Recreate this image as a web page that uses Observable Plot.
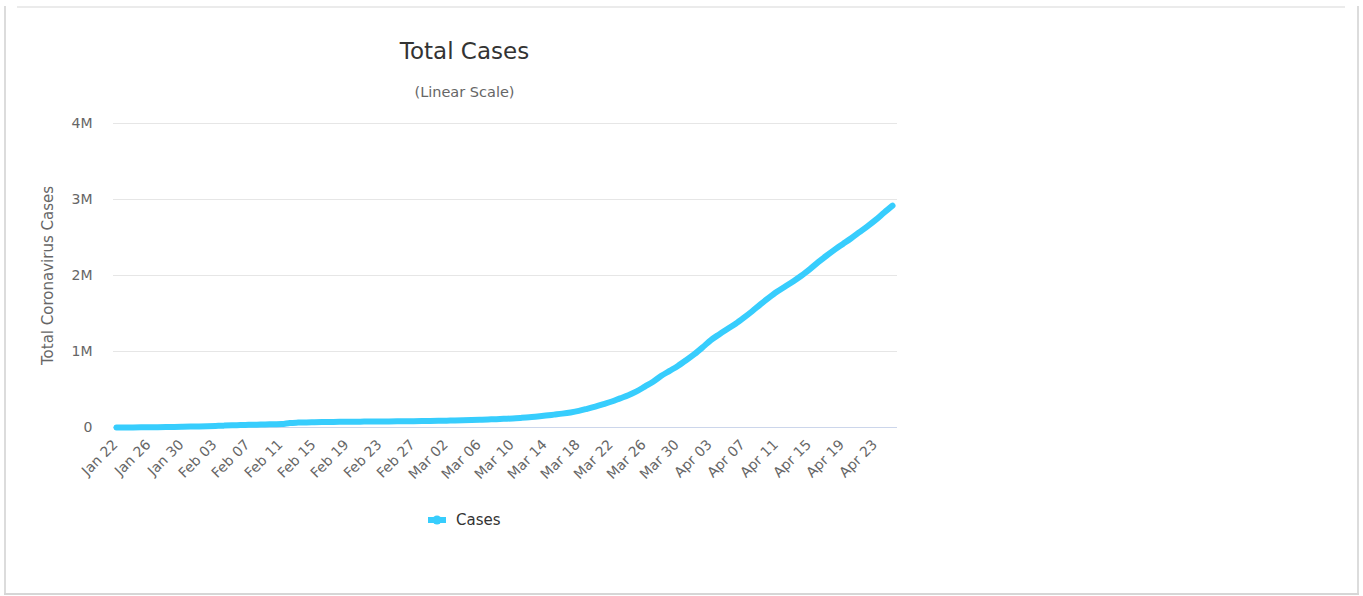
<!DOCTYPE html>
<html>
<head>
<meta charset="utf-8">
<script src="https://cdn.jsdelivr.net/npm/d3@7"></script>
<script src="https://cdn.jsdelivr.net/npm/@observablehq/plot@0.6"></script>
<style>
  html, body { margin: 0; padding: 0; background: #fff; }
  body { width: 1363px; height: 596px; position: relative; overflow: hidden; font-family: "DejaVu Sans", sans-serif; }
  #chart { position: absolute; left: 0; top: 0; }
  .frame-top { position: absolute; left: 17px; top: 6px; width: 1328px; height: 2px; background: #ebebeb; }
  .frame-left { position: absolute; left: 4px; top: 6px; width: 2px; height: 589px; background: #dcdcdc; }
  .frame-right { position: absolute; left: 1357px; top: 6px; width: 2px; height: 589px; background: #dcdcdc; }
  .frame-bottom { position: absolute; left: 4px; top: 593px; width: 1355px; height: 2px; background: #d6d6d6; }
  .title { position: absolute; left: 0; width: 929px; text-align: center; color: #333; }
  #t1 { top: 38px; font-size: 23px; }
  #t2 { top: 84px; font-size: 14.5px; color: #666; }
  #legend { position: absolute; left: 426px; top: 509px; height: 22px; display: flex; align-items: center; color: #333; font-size: 15px; }
  #legend svg { margin-right: 8px; }
</style>
</head>
<body>
<div class="frame-top"></div>
<div class="frame-left"></div>
<div class="frame-right"></div>
<div class="frame-bottom"></div>
<div id="chart"></div>
<div class="title" id="t1">Total Cases</div>
<div class="title" id="t2">(Linear Scale)</div>
<div id="legend">
  <svg width="22" height="12"><line x1="2" y1="6" x2="20" y2="6" stroke="#37cdfd" stroke-width="6"/><circle cx="11" cy="6" r="4.5" fill="#37cdfd"/></svg>
  <span>Cases</span>
</div>
<script>
// Data (worldwide total coronavirus cases, daily from Jan 22 to Apr 25, 2020)
const startDate = "2020-01-22";
const endDate = "2020-04-25";
const cases = [
  580, 845, 1317, 2015, 2800, 4581, 6058, 7813, 9823, 11950,
  14553, 17391, 20630, 24545, 28266, 31439, 34876, 37552, 40553, 43099,
  45134, 59287, 64438, 67100, 69197, 71329, 73332, 75184, 75700, 76677,
  77673, 78651, 79205, 80087, 80828, 81820, 83112, 84615, 86604,
  88585, 90443, 93016, 95314, 98425, 102050, 106099, 109991, 114381, 118948,
  126214, 134576, 145483, 156653, 169593, 182490, 198238, 218822, 246261, 275869,
  308175, 341585, 383750, 424889, 475706, 538666, 603066, 680000, 745000, 810000,
  885000,
  965000, 1055000, 1150000, 1225000, 1295000, 1365000, 1445000, 1530000, 1620000, 1705000,
  1785000, 1855000, 1925000, 2000000, 2085000, 2175000, 2260000, 2340000, 2415000, 2490000,
  2570000, 2650000, 2735000, 2830000, 2920000
];
const xTickLabels = ["Jan 22","Jan 26","Jan 30","Feb 03","Feb 07","Feb 11","Feb 15","Feb 19","Feb 23","Feb 27",
  "Mar 02","Mar 06","Mar 10","Mar 14","Mar 18","Mar 22","Mar 26","Mar 30","Apr 03","Apr 07","Apr 11","Apr 15","Apr 19","Apr 23"];
const yTicks = [0, 1000000, 2000000, 3000000, 4000000];
const yTickLabels = ["0", "1M", "2M", "3M", "4M"];
const seriesName = "Cases";
const yTitle = "Total Coronavirus Cases";

const dates = d3.utcDay.range(new Date(startDate + "T00:00Z"), d3.utcDay.offset(new Date(endDate + "T00:00Z"), 1));
const table = dates.map((d, i) => ({date: d, value: cases[i], series: seriesName}));
const parseTick = d3.utcParse("%Y %b %d");
const tickDates = xTickLabels.map(s => parseTick("2020 " + s));
const lineColor = "#37cdfd";

const chart = Plot.plot({
  width: 1363,
  height: 596,
  marginLeft: 113,
  marginRight: 466,
  marginTop: 123,
  marginBottom: 169,
  style: {fontFamily: "DejaVu Sans, sans-serif", fontSize: "14px", color: "#666", background: "transparent"},
  x: {type: "utc", domain: [dates[0], dates[dates.length - 1]], insetLeft: 3, insetRight: 5, axis: null},
  y: {domain: [0, 4000000], axis: null},
  marks: [
    Plot.ruleY(yTicks.slice(1), {stroke: "#e6e6e6", strokeWidth: 1}),
    Plot.ruleY([0], {stroke: "#ccd6eb", strokeWidth: 1}),
    Plot.axisY({ticks: yTicks, tickFormat: (d) => yTickLabels[yTicks.indexOf(d)], tickSize: 0, tickPadding: 21, label: null, fill: "#666", fontSize: 14}),
    Plot.text(tickDates, {x: (d) => d, text: (d, i) => xTickLabels[i], frameAnchor: "bottom", dx: 2, dy: 18, rotate: -45, textAnchor: "end", fill: "#666", fontSize: 14}),
    Plot.text([yTitle], {frameAnchor: "left", dx: -65, rotate: -90, textAnchor: "middle", fill: "#666", fontSize: 15}),
    Plot.line(table, {x: "date", y: "value", stroke: lineColor, strokeWidth: 6, curve: "monotone-x", strokeLinecap: "round", strokeLinejoin: "round"})
  ]
});
document.getElementById("chart").appendChild(chart);
</script>
</body>
</html>
